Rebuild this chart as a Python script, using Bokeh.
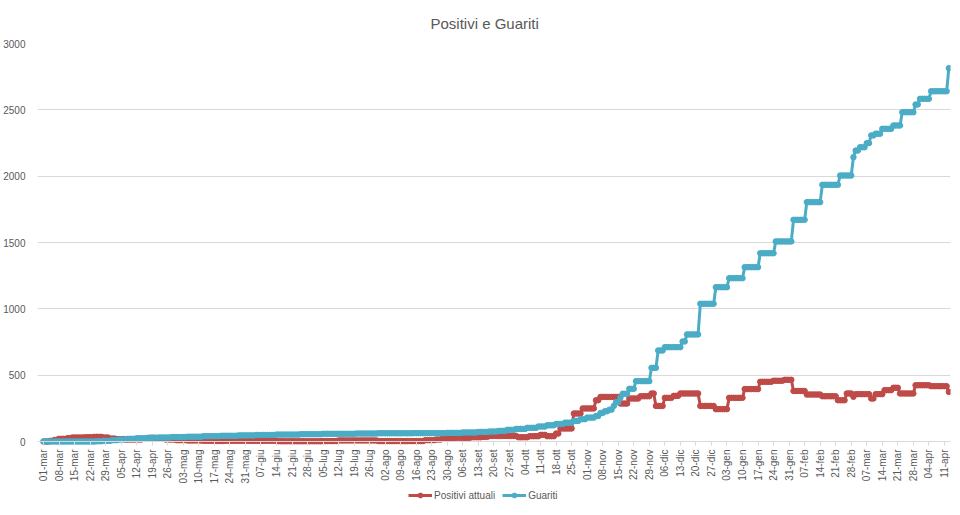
import math
import pandas as pd
from bokeh.plotting import figure
from bokeh.models import ColumnDataSource, FixedTicker, Legend, LegendItem, Range1d
from bokeh.embed import file_html
from bokeh.resources import INLINE

# ---------------- data ----------------
first_day = "2020-03-01"
last_day = "2021-04-13"

tick_labels = [
    "01-mar", "08-mar", "15-mar", "22-mar", "29-mar", "05-apr", "12-apr", "19-apr", "26-apr",
    "03-mag", "10-mag", "17-mag", "24-mag", "31-mag", "07-giu", "14-giu", "21-giu", "28-giu",
    "05-lug", "12-lug", "19-lug", "26-lug", "02-ago", "09-ago", "16-ago", "23-ago", "30-ago",
    "06-set", "13-set", "20-set", "27-set", "04-ott", "11-ott", "18-ott", "25-ott",
    "01-nov", "08-nov", "15-nov", "22-nov", "29-nov", "06-dic", "13-dic", "20-dic", "27-dic",
    "03-gen", "10-gen", "17-gen", "24-gen", "31-gen", "07-feb", "14-feb", "21-feb", "28-feb",
    "07-mar", "14-mar", "21-mar", "28-mar", "04-apr", "11-apr",
]

# Guariti: dates on which the published value changed, and the new value
guariti_dates = [
    "2020-03-01", "2020-03-25", "2020-03-28", "2020-04-01", "2020-04-04", "2020-04-08",
    "2020-04-12", "2020-04-17", "2020-04-22", "2020-04-28", "2020-05-05", "2020-05-12",
    "2020-05-20", "2020-05-28", "2020-06-05", "2020-06-14", "2020-06-25", "2020-07-05",
    "2020-07-20", "2020-07-30", "2020-08-15", "2020-08-30", "2020-09-06", "2020-09-13",
    "2020-09-18", "2020-09-22", "2020-09-26", "2020-09-30", "2020-10-05", "2020-10-10",
    "2020-10-14", "2020-10-18", "2020-10-22", "2020-10-26", "2020-10-29", "2020-11-01",
    "2020-11-05", "2020-11-07", "2020-11-09", "2020-11-11", "2020-11-13", "2020-11-14",
    "2020-11-16", "2020-11-17", "2020-11-20", "2020-11-23", "2020-11-30", "2020-12-03",
    "2020-12-06", "2020-12-14", "2020-12-16", "2020-12-22", "2020-12-29", "2021-01-04",
    "2021-01-11", "2021-01-18", "2021-01-25", "2021-02-02", "2021-02-08", "2021-02-15",
    "2021-02-23", "2021-03-01", "2021-03-02", "2021-03-04", "2021-03-07", "2021-03-09",
    "2021-03-11", "2021-03-14", "2021-03-19", "2021-03-23", "2021-03-29", "2021-03-31",
    "2021-04-05", "2021-04-13",
]
guariti_vals = [
    0, 2, 5, 10, 15, 20,
    24, 28, 30, 33, 36, 40,
    43, 46, 49, 52, 55, 58,
    60, 62, 63, 65, 68, 72,
    75, 80, 88, 95, 103, 113,
    122, 132, 142, 155, 168, 180,
    192, 215, 228, 240, 268, 296,
    330, 360, 397, 455, 555, 686,
    711, 754, 807, 1038, 1163, 1231,
    1314, 1419, 1508, 1671, 1804, 1935,
    2005, 2143, 2193, 2218, 2249, 2307,
    2320, 2357, 2382, 2482, 2540, 2583,
    2640, 2814,
]

# Positivi attuali: dates on which the value changed, and the new value
positivi_dates = [
    "2020-03-01", "2020-03-04", "2020-03-06", "2020-03-08", "2020-03-12", "2020-03-14",
    "2020-03-20", "2020-03-24", "2020-03-28", "2020-03-31", "2020-04-03", "2020-04-07",
    "2020-04-15", "2020-04-18", "2020-04-21", "2020-04-25", "2020-04-30", "2020-05-05",
    "2020-05-12", "2020-05-18", "2020-05-22", "2020-06-01", "2020-06-10", "2020-06-15",
    "2020-07-05", "2020-07-12", "2020-07-30", "2020-08-20", "2020-08-25", "2020-08-28",
    "2020-09-02", "2020-09-10", "2020-09-15", "2020-09-18", "2020-10-01", "2020-10-06",
    "2020-10-11", "2020-10-14", "2020-10-18", "2020-10-20", "2020-10-26", "2020-10-30",
    "2020-11-05", "2020-11-07", "2020-11-16", "2020-11-20", "2020-11-25", "2020-11-30",
    "2020-12-02", "2020-12-06", "2020-12-10", "2020-12-13", "2020-12-22", "2020-12-29",
    "2021-01-04", "2021-01-11", "2021-01-18", "2021-01-24", "2021-01-29", "2021-02-02",
    "2021-02-08", "2021-02-15", "2021-02-22", "2021-02-26", "2021-03-01", "2021-03-02",
    "2021-03-09", "2021-03-11", "2021-03-15", "2021-03-19", "2021-03-22", "2021-03-29",
    "2021-04-05", "2021-04-13",
]
positivi_vals = [
    0, 5, 12, 20, 25, 30,
    32, 35, 30, 22, 18, 15,
    20, 28, 20, 15, 10, 8,
    6, 4, 6, 5, 6, 2,
    3, 8, 3, 10, 15, 25,
    28, 32, 35, 42, 32, 40,
    50, 40, 60, 98, 211, 249,
    311, 336, 286, 324, 341, 362,
    268, 329, 344, 362, 268, 244,
    329, 395, 450, 458, 465, 381,
    354, 341, 311, 362, 337, 357,
    324, 357, 387, 405, 362, 424,
    417, 374,
]

# ---------------- build daily series ----------------
days = pd.date_range(first_day, last_day, freq="D")
start = pd.Timestamp(first_day)


def daily(dates, vals):
    s = pd.Series(vals, index=pd.to_datetime(dates))
    return s.reindex(days).ffill().values


x = (days - start).days.values
source = ColumnDataSource(dict(
    x=x,
    guariti=daily(guariti_dates, guariti_vals),
    positivi=daily(positivi_dates, positivi_vals),
))

RED = "#BE4B48"
TEAL = "#4BACC6"
GRAY_TXT = "#595959"
GRID = "#D9D9D9"
FONT = "Liberation Sans"

# The frame reaches down to the bottom of the page so the legend can sit
# inside it, below the zero line (the x axis is pinned at y = 0).
Y_MAX = 3000
Y_MIN = -Y_MAX * 74 / 398

p = figure(
    frame_width=913, frame_height=472,
    x_range=Range1d(-2.7, 408.74), y_range=Range1d(Y_MIN, Y_MAX),
    output_backend="svg", toolbar_location=None,
    min_border_left=34, min_border_right=13, min_border_top=43, min_border_bottom=0,
)
p.title.text = "Positivi e Guariti"
p.title.align = "left"
p.title.offset = 393
p.title.standoff = 23
p.title.text_font = FONT
p.title.text_font_size = "15px"
p.title.text_font_style = "normal"
p.title.text_color = GRAY_TXT

p.outline_line_color = None
p.xgrid.grid_line_color = None
p.ygrid.grid_line_color = GRID
p.ygrid.grid_line_width = 1

# x axis, pinned at y = 0
p.xaxis.fixed_location = 0
p.xaxis.ticker = FixedTicker(ticks=[7 * i for i in range(len(tick_labels))])
p.xaxis.major_label_overrides = {7 * i: lbl for i, lbl in enumerate(tick_labels)}
p.xaxis.major_label_orientation = math.pi / 2
p.xaxis.major_label_text_font = FONT
p.xaxis.major_label_text_font_size = "10px"
p.xaxis.major_label_text_color = GRAY_TXT
p.xaxis.axis_line_color = GRID
p.xaxis.major_tick_line_color = GRID
p.xaxis.major_tick_out = 4
p.xaxis.major_tick_in = 0
p.xaxis.minor_tick_line_color = None
p.xaxis.major_label_standoff = 4

# y axis
p.yaxis.ticker = FixedTicker(ticks=[0, 500, 1000, 1500, 2000, 2500, 3000])
p.yaxis.major_label_text_font = FONT
p.yaxis.major_label_text_font_size = "10px"
p.yaxis.major_label_text_color = GRAY_TXT
p.yaxis.axis_line_color = None
p.yaxis.major_tick_line_color = None
p.yaxis.minor_tick_line_color = None
p.yaxis.major_label_standoff = 6

r_pos_l = p.line("x", "positivi", source=source, color=RED, line_width=3)
r_pos_m = p.scatter("x", "positivi", source=source, size=5.5, color=RED)
r_gua_l = p.line("x", "guariti", source=source, color=TEAL, line_width=3)
r_gua_m = p.scatter("x", "guariti", source=source, size=5.5, color=TEAL)

legend = Legend(
    items=[
        LegendItem(label="Positivi attuali", renderers=[r_pos_l, r_pos_m]),
        LegendItem(label="Guariti", renderers=[r_gua_l, r_gua_m]),
    ],
    orientation="horizontal",
    location=(371, 14),
    label_text_font=FONT,
    label_text_font_size="10px",
    label_text_color=GRAY_TXT,
    glyph_width=24, glyph_height=12,
    label_height=12,
    label_standoff=2, spacing=7, padding=0, margin=0,
    border_line_color=None, background_fill_alpha=0,
)
p.add_layout(legend, "center")

open("out.html", "w").write(file_html(p, INLINE))
